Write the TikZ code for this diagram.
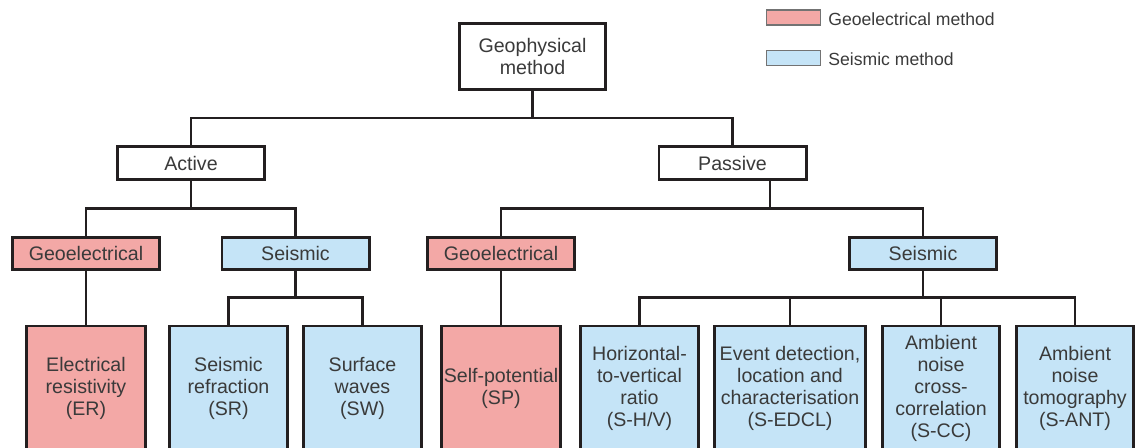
\documentclass[tikz,border=0pt]{standalone}
\usepackage{fontspec}
\setmainfont{Liberation Sans}
\usetikzlibrary{calc}

\definecolor{geoRed}{RGB}{243,168,166}
\definecolor{seisBlue}{RGB}{197,228,247}
\definecolor{inkGray}{RGB}{58,58,58}
\definecolor{lineDark}{RGB}{35,31,32}

\begin{document}
\begin{tikzpicture}
[x=0.5pt,y=-0.5pt,%
  boxDecorate/.style={draw=lineDark,line width=1.4pt,inner sep=0pt,align=center,
    text=inkGray,font=\fontsize{9.8}{11}\selectfont},%
  headBox/.style={boxDecorate,fill=white,minimum width=73.6pt,minimum height=16.6pt},%
  geoBox/.style={boxDecorate,fill=geoRed,minimum width=73.6pt,minimum height=16pt},%
  seisBox/.style={boxDecorate,fill=seisBlue,minimum width=73.6pt,minimum height=16pt},%
  leafBox/.style={boxDecorate,minimum height=62pt,minimum width=#1},%
  legendSwatch/.style={draw=black!55,line width=0.6pt,minimum width=27pt,minimum height=7.5pt,inner sep=0pt},%
  legendText/.style={anchor=west,inner sep=0pt,text=inkGray,font=\fontsize{8.8}{10}\selectfont},%
  treeLink/.style={draw=lineDark,line width=1.4pt,
    to path={(\tikztostart) |- ($(\tikztostart)!0.5!(\tikztotarget)$) -| (\tikztotarget)}}]
\useasboundingbox (0,0) rectangle (1135,448);

%% top levels
\node (geophys) at (532.5,56.5) [headBox,minimum width=73pt,minimum height=33pt] {Geophysical\\method};
\node (active) at (191,163) [headBox] {Active};
\node (passive) at (732.5,163) [headBox] {Passive};
\coordinate (passiveStem) at ([xshift=18.75pt]passive.south);

%% method groups
\node (geoActive) at (86,253.5) [geoBox] {Geoelectrical};
\node (seisActive) at (295.5,253.5) [seisBox] {Seismic};
\node (geoPassive) at (501,253.5) [geoBox] {Geoelectrical};
\node (seisPassive) at (923,253.5) [seisBox] {Seismic};

%% single methods
\node (er) at (86,388) [leafBox=59.6pt,fill=geoRed] {Electrical\\resistivity\\(ER)};
\node (sr) at (228.5,388) [leafBox=59pt,fill=seisBlue] {Seismic\\refraction\\(SR)};
\node (sw) at (362.5,388) [leafBox=59pt,fill=seisBlue] {Surface\\waves\\(SW)};
\node (sp) at (501,388) [leafBox=59.6pt,fill=geoRed] {Self-potential\\(SP)};
\node (hv) at (639.5,388) [leafBox=59pt,fill=seisBlue] {Horizontal-\\to-vertical\\ratio\\(S-H/V)};
\node (edcl) at (790,388) [leafBox=75.6pt,fill=seisBlue] {Event detection,\\location and\\characterisation\\(S-EDCL)};
\node (cc) at (941,388) [leafBox=58.6pt,fill=seisBlue] {Ambient\\noise\\cross-\\correlation\\(S-CC)};
\node (ant) at (1075,388) [leafBox=58.6pt,fill=seisBlue] {Ambient\\noise\\tomography\\(S-ANT)};

%% legend
\node (legGeo) at (793.5,17.5) [legendSwatch,fill=geoRed] {};
\node (legGeoText) at (828,19) [legendText] {Geoelectrical method};
\node (legSeis) at (793.5,58) [legendSwatch,fill=seisBlue] {};
\node (legSeisText) at (828,59) [legendText] {Seismic method};

%% tree lines
\foreach \startnode/\endnode in {geophys.south/active.north, geophys.south/passive.north,
  active.south/geoActive.north, active.south/seisActive.north,
  passiveStem/geoPassive.north, passiveStem/seisPassive.north,
  geoActive.south/er.north, seisActive.south/sr.north, seisActive.south/sw.north,
  geoPassive.south/sp.north, seisPassive.south/hv.north, seisPassive.south/edcl.north,
  seisPassive.south/cc.north, seisPassive.south/ant.north}
{
  \draw[treeLink] (\startnode) to (\endnode);
}
\end{tikzpicture}
\end{document}
